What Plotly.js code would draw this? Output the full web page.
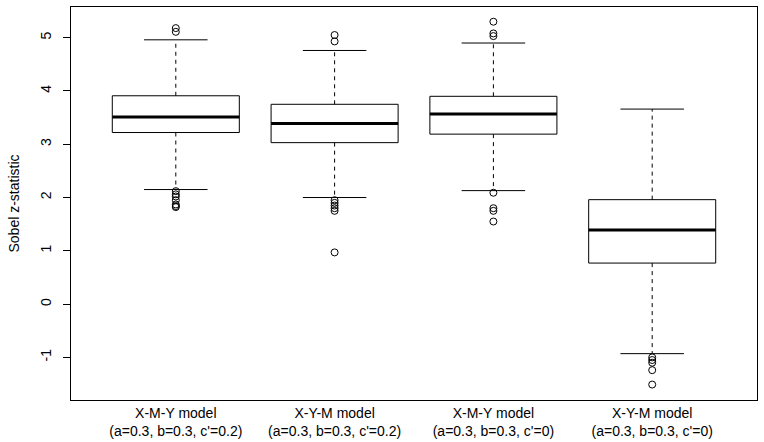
<!DOCTYPE html>
<html>
<head>
<meta charset="utf-8">
<script src="https://cdn.plot.ly/plotly-3.0.1.min.js"></script>
<style>html,body{margin:0;padding:0;background:#fff;}#chart{width:764px;height:442px;}</style>
</head>
<body>
<div id="chart"></div>
<script>
// Category labels
const categories = [
  "X-M-Y model<br>(a=0.3, b=0.3, c'=0.2)",
  "X-Y-M model<br>(a=0.3, b=0.3, c'=0.2)",
  "X-M-Y model<br>(a=0.3, b=0.3, c'=0)",
  "X-Y-M model<br>(a=0.3, b=0.3, c'=0)"
];
const positions = [1, 2, 3, 4];
// Box statistics
const lowerWhisker = [2.15, 2.00, 2.13, -0.93];
const q1Values     = [3.22, 3.03, 3.19, 0.77];
const medianValues = [3.51, 3.39, 3.57, 1.39];
const q3Values     = [3.91, 3.75, 3.90, 1.96];
const upperWhisker = [4.96, 4.76, 4.90, 3.66];
// Outliers per group
const outliers1 = [5.18, 5.11, 2.12, 2.06, 2.02, 1.95, 1.87, 1.84, 1.82];
const outliers2 = [5.05, 4.93, 1.95, 1.90, 1.85, 1.80, 1.75, 0.97];
const outliers3 = [5.30, 5.08, 5.03, 2.09, 1.80, 1.75, 1.55];
const outliers4 = [-1.00, -1.05, -1.10, -1.24, -1.51];
const outlierSets = [outliers1, outliers2, outliers3, outliers4];

const yTicks = [-1, 0, 1, 2, 3, 4, 5];

const halfBox = 0.4, halfStaple = 0.2;
const traces = [];
const blk = 'black';
positions.forEach((p, i) => {
  // box
  traces.push({type:'scatter', mode:'lines', hoverinfo:'skip', showlegend:false,
    x:[p-halfBox, p+halfBox, p+halfBox, p-halfBox, p-halfBox],
    y:[q1Values[i], q1Values[i], q3Values[i], q3Values[i], q1Values[i]],
    line:{color:blk, width:1}});
  // median
  traces.push({type:'scatter', mode:'lines', hoverinfo:'skip', showlegend:false,
    x:[p-halfBox, p+halfBox], y:[medianValues[i], medianValues[i]],
    line:{color:blk, width:3}});
  // whiskers (dashed)
  traces.push({type:'scatter', mode:'lines', hoverinfo:'skip', showlegend:false,
    x:[p, p, null, p, p], y:[q3Values[i], upperWhisker[i], null, q1Values[i], lowerWhisker[i]],
    line:{color:blk, width:1, dash:'4px,4px'}});
  // staples
  traces.push({type:'scatter', mode:'lines', hoverinfo:'skip', showlegend:false,
    x:[p-halfStaple, p+halfStaple, null, p-halfStaple, p+halfStaple],
    y:[upperWhisker[i], upperWhisker[i], null, lowerWhisker[i], lowerWhisker[i]],
    line:{color:blk, width:1}});
  // outliers
  traces.push({type:'scatter', mode:'markers', hoverinfo:'skip', showlegend:false,
    x:outlierSets[i].map(() => p), y:outlierSets[i],
    marker:{symbol:'circle-open', size:7, color:blk, line:{width:1, color:blk}}});
});

const font = {family:'"Liberation Sans", Arial, sans-serif', size:14, color:'black'};
const layout = {
  width:764, height:442,
  margin:{l:71, r:7, t:7, b:42},
  paper_bgcolor:'white', plot_bgcolor:'white',
  font: font,
  showlegend:false,
  xaxis:{range:[0.34, 4.66], tickvals:positions, ticktext:categories, ticks:'',
    showgrid:false, zeroline:false, showline:true, mirror:true, linecolor:'black', linewidth:1,
    tickfont:font, ticklabelstandoff:0},
  yaxis:{range:[-1.80, 5.576], tickvals:yTicks, ticktext:yTicks.map(String), ticks:'outside', ticklen:7,
    tickcolor:'black', tickwidth:1, tickangle:-90,
    showgrid:false, zeroline:false, showline:true, mirror:true, linecolor:'black', linewidth:1,
    tickfont:font, ticklabelstandoff:6,
    title:{text:'Sobel z-statistic', font:font, standoff:15}}
};
Plotly.newPlot('chart', traces, layout, {staticPlot:true, displayModeBar:false});
</script>
</body>
</html>
